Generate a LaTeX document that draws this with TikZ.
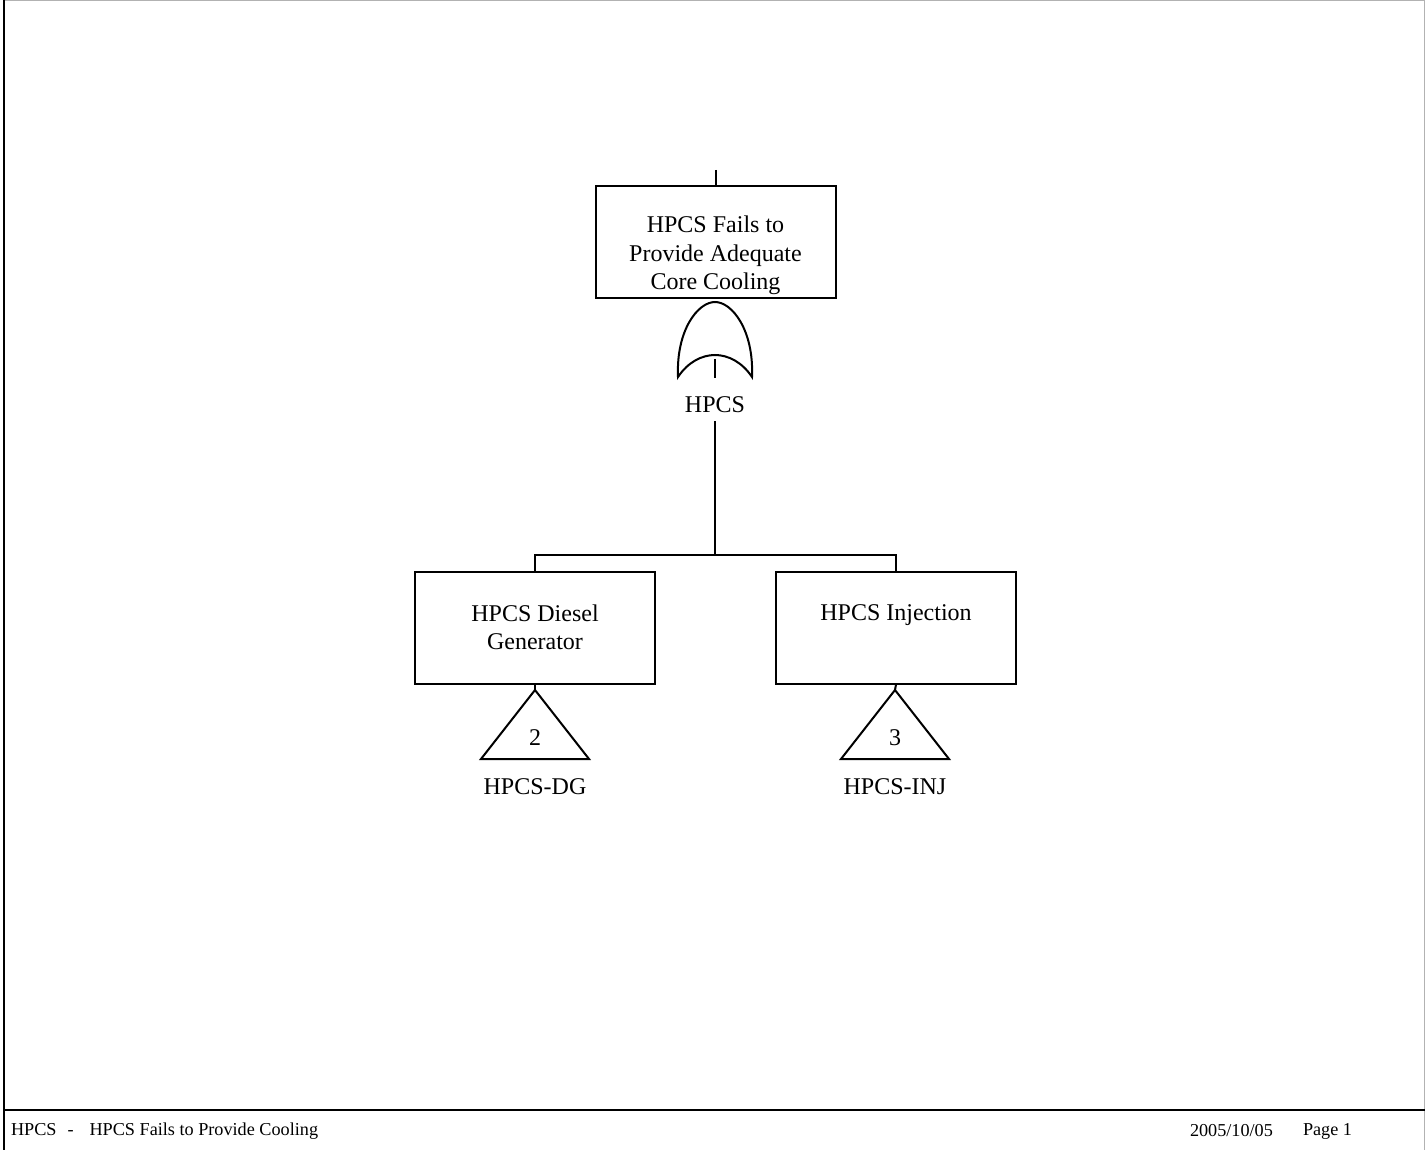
\documentclass[tikz,border=0pt]{standalone}
\usepackage{fontspec}
\setmainfont{Liberation Serif}
\usetikzlibrary{positioning}

\begin{document}
\begin{tikzpicture}[x=1pt, y=-1pt, line width=2pt,
        evbox/.style={draw, minimum width=240pt, minimum height=112pt, inner sep=0pt},
        evtext/.style={font=\fontsize{24}{28.5}\selectfont, align=center, inner sep=0pt},
        foot/.style={font=\fontsize{18.2}{22}\selectfont, inner sep=0pt, anchor=west}]
        \useasboundingbox (0,0) rectangle (1425,1150);
        % page frame
        \draw[gray!60, line width=1pt] (4,0.5) -- (1424.5,0.5) -- (1424.5,1150);
        \draw[line width=1.5pt] (4,0) -- (4,1150);
        \draw[line width=1.5pt] (4,1110) -- (1424.5,1110);

        % top event
        \coordinate (in) at (715.5,170);
        \node[evbox] (top) at (715.5,242) {};
        \node[evtext, anchor=north] (toptext) at ([yshift=-30pt]top.north) {HPCS Fails to\\Provide Adequate\\Core Cooling};
        \draw (in) -- (top.north);

        % OR gate
        \draw (678,377) .. controls (676,330) and (698,302) .. (715,302)
                        .. controls (732,302) and (754,330) .. (752,377)
                        .. controls (742,362) and (728,355) .. (715,355)
                        .. controls (702,355) and (688,362) .. (678,377) -- cycle;
        \coordinate (gin) at (715,359);
        \node[evtext] (gname) at (715,405) {HPCS};
        \draw[shorten >=18pt] (gin) -- (gname.north);
        \coordinate (bar) at (715,555);
        \draw[shorten <=7pt] (gname.south) -- (bar);

        % inputs
        \node[evbox] (dg) at (535,627.5) {};
        \node[evtext, anchor=north] (dgtext) at ([yshift=-33pt]dg.north) {HPCS Diesel\\Generator};
        \node[evbox] (inj) at (896,627.5) {};
        \node[evtext, anchor=north] (injtext) at ([yshift=-33pt]inj.north) {HPCS Injection};
        \draw (dg.north) |- (bar) -| (inj.north);

        % transfers
        \coordinate (dgtip) at (535,690);
        \draw (dg.south) -- (dgtip);
        \draw (dgtip) -- ++(54,69) -- ++(-108,0) -- cycle;
        \node[evtext] (dgnum) at (535,738) {2};
        \node[evtext] (dglbl) at (535,787) {HPCS-DG};
        \coordinate (injtip) at (895,690);
        \draw (inj.south) -- (injtip);
        \draw (injtip) -- ++(54,69) -- ++(-108,0) -- cycle;
        \node[evtext] (injnum) at (895,738) {3};
        \node[evtext] (injlbl) at (895,787) {HPCS-INJ};

        % footer
        \node[foot] (ftitle) at (10,1131) {HPCS\hspace{11pt}-\hspace{16pt}HPCS Fails to Provide Cooling};
        \node[foot] (fdate) at (1189,1131) {2005/10/05};
        \node[foot] (fpage) at (1302,1131) {Page 1};
\end{tikzpicture}
\end{document}
